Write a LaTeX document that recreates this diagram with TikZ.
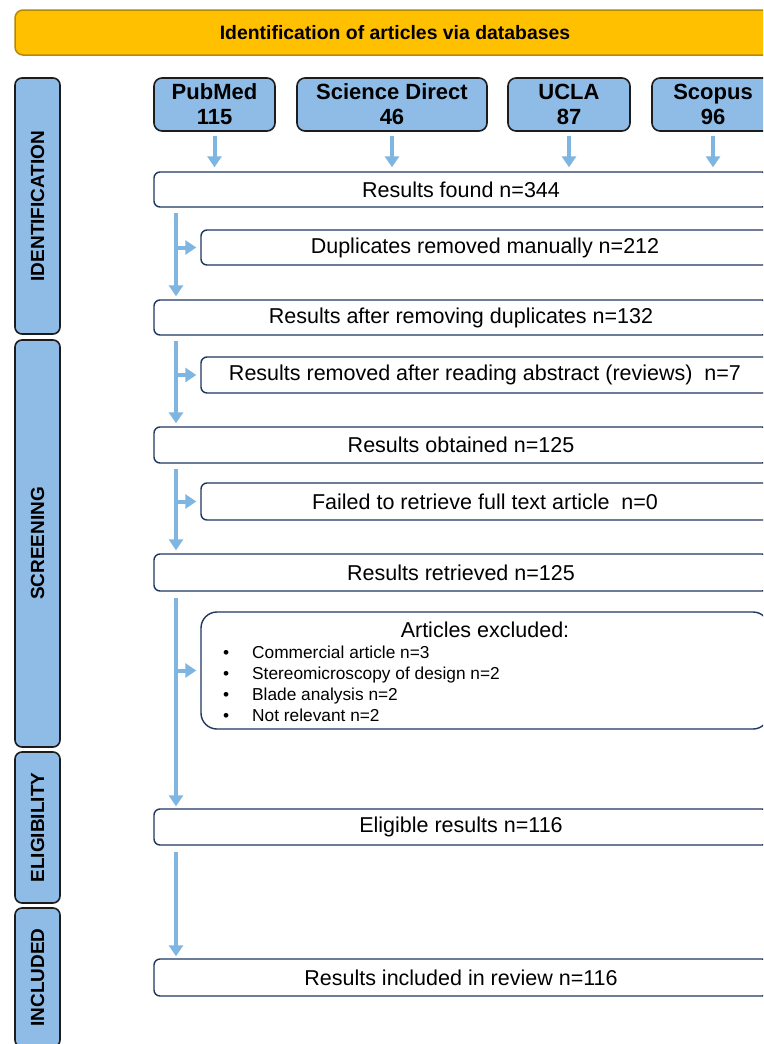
\documentclass[tikz,border=0pt]{standalone}
\usepackage{fontspec}
\setmainfont{Liberation Sans}
\usetikzlibrary{arrows.meta,calc}
\definecolor{bannerfill}{HTML}{FFC000}
\definecolor{bannerdraw}{HTML}{B58A00}
\definecolor{sideblue}{HTML}{8EBCE6}
\definecolor{arrowblue}{HTML}{7FB5E1}
\definecolor{navy}{HTML}{1F3760}
\definecolor{darkline}{HTML}{1C1C1C}
\begin{document}
\begin{tikzpicture}[x=1pt,y=-1pt,
  banner/.style={draw=bannerdraw, fill=bannerfill, line width=1.5pt, rounded corners=8pt,
    font=\fontsize{19.4}{23}\selectfont\bfseries, inner sep=0pt},
  side/.style={draw=darkline, fill=sideblue, line width=1.6pt, rounded corners=7pt, rotate=90,
    font=\fontsize{19}{23}\selectfont\bfseries, inner sep=0pt, minimum height=45pt},
  src/.style={draw=darkline, fill=sideblue, line width=1.6pt, rounded corners=8pt,
    font=\fontsize{22}{25}\selectfont\bfseries, align=center, inner sep=0pt, minimum height=53pt},
  mainbox/.style={draw=navy, fill=white, line width=1.4pt, rounded corners=6pt,
    font=\fontsize{21.5}{25}\selectfont, inner sep=0pt, minimum height=35pt},
  arr/.style={draw=arrowblue, line width=4pt, -{Triangle[length=11pt,width=14pt]}},
]
\useasboundingbox (0,0) rectangle (763,1044);
\fill[white] (0,0) rectangle (763,1044);
\clip (0,0) rectangle (763,1044);

% banner
\node[banner, minimum width=760pt, minimum height=45pt] (ban) at (395,32.5) {Identification of articles via databases};

% side labels
\node[side, minimum width=256pt] (sid) at (37.5,206) {IDENTIFICATION};
\node[side, minimum width=407pt] (sscr) at (37.5,543.5) {SCREENING};
\node[side, minimum width=151pt] (selig) at (37.5,827.5) {ELIGIBILITY};
\node[side, minimum width=139pt] (sinc) at (37.5,977.5) {INCLUDED};

% sources
\node[src, minimum width=121pt] (pub) at (214.5,104.5) {PubMed\\115};
\node[src, minimum width=190pt] (sd) at (392,104.5) {Science Direct\\46};
\node[src, minimum width=122pt] (ucla) at (569,104.5) {UCLA\\87};
\node[src, minimum width=122pt] (scop) at (713,104.5) {Scopus\\96};

% main boxes
\node[mainbox, minimum width=614pt] (found) at (461,189.5) {Results found n=344};
\node[mainbox, minimum width=568pt] (dup) at (485,247.5) {Duplicates removed manually n=212};
\node[mainbox, minimum width=614pt] (after) at (461,317.5) {Results after removing duplicates n=132};
\node[mainbox, minimum width=568pt, minimum height=36pt] (abs) at (485,375) {Results removed after reading abstract (reviews)\ \ n=7};
\node[mainbox, minimum width=614pt, minimum height=36pt] (obt) at (461,445) {Results obtained n=125};
\node[mainbox, minimum width=568pt, minimum height=37pt] (fail) at (485,501.5) {Failed to retrieve full text article\ \ n=0};
\node[mainbox, minimum width=614pt, minimum height=37pt] (retr) at (461,572.5) {Results retrieved n=125};
\node[mainbox, minimum width=568pt, minimum height=117pt, rounded corners=16pt] (excl) at (485,670.5) {};
\node[font=\fontsize{21.5}{25}\selectfont, inner sep=0pt] (exclt) at ($(excl.north)+(0,19)$) {Articles excluded:};
\node[font=\fontsize{17.3}{21}\selectfont, align=left, inner sep=0pt, anchor=north west] (excll) at (223,645.5)
  {\makebox[29pt][l]{\textbullet}Commercial article n=3\\
   \makebox[29pt][l]{\textbullet}Stereomicroscopy of design n=2\\
   \makebox[29pt][l]{\textbullet}Blade analysis n=2\\
   \makebox[29pt][l]{\textbullet}Not relevant n=2};
\node[mainbox, minimum width=614pt, minimum height=36pt] (elig) at (461,827) {Eligible results n=116};
\node[mainbox, minimum width=614pt, minimum height=37pt] (incl) at (461,977.5) {Results included in review n=116};

% source arrows
\foreach \s in {pub,sd,ucla,scop}
  \draw[arr, shorten <=4pt, shorten >=4pt] (\s.south) -- (\s.south |- found.north);

% vertical flow arrows
\coordinate (vx) at (176,0);
\draw[arr, shorten <=5pt, shorten >=3pt] (vx |- found.south) -- (vx |- after.north);
\draw[arr, shorten >=4pt] (vx |- dup.west) -- (dup.west);
\draw[arr, shorten <=5pt, shorten >=3pt] (vx |- after.south) -- (vx |- obt.north);
\draw[arr, shorten >=4pt] (vx |- abs.west) -- (abs.west);
\draw[arr, shorten <=5pt, shorten >=3pt] (vx |- obt.south) -- (vx |- retr.north);
\draw[arr, shorten >=4pt] (vx |- fail.west) -- (fail.west);
\draw[arr, shorten <=6pt, shorten >=2pt] (vx |- retr.south) -- (vx |- elig.north);
\draw[arr, shorten >=4pt] (vx |- excl.west) -- (excl.west);
\draw[arr, shorten <=6pt, shorten >=2pt] (vx |- elig.south) -- (vx |- incl.north);
\end{tikzpicture}
\end{document}
